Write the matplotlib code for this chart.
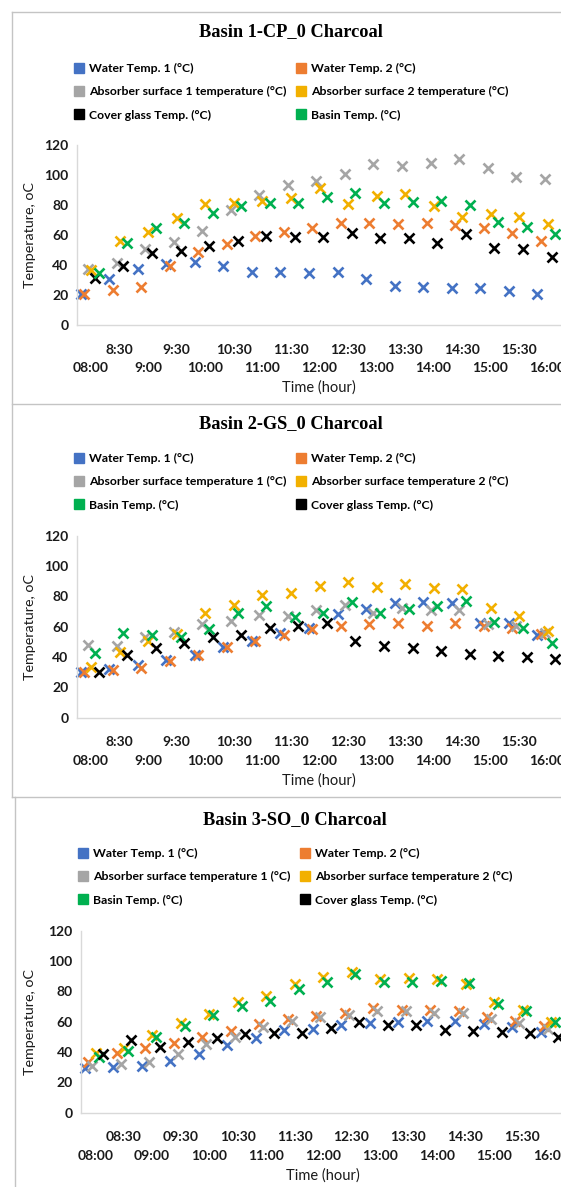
import numpy as np
import matplotlib.pyplot as plt
from matplotlib.lines import Line2D

# reading times (30 min steps)
times_a = ['08:00', '8:30', '9:00', '9:30', '10:00', '10:30', '11:00', '11:30', '12:00',
           '12:30', '13:00', '13:30', '14:00', '14:30', '15:00', '15:30', '16:00']
times_b = ['08:00', '08:30', '09:00', '09:30', '10:00', '10:30', '11:00', '11:30', '12:00',
           '12:30', '13:00', '13:30', '14:00', '14:30', '15:00', '15:30', '16:00']

# Basin 1 - CP
water1_cp = [20.4, 30.7, 37.1, 40.4, 42.2, 39.6, 35.6, 35.6, 34.9, 35.6, 30.7, 26.0, 25.6, 24.9, 24.4, 22.7, 20.9]
water2_cp = [20.4, 23.3, 25.1, 39.6, 48.4, 54.0, 59.6, 61.8, 64.9, 68.2, 67.8, 67.3, 67.8, 66.7, 64.4, 61.1, 56.2]
abs1_cp = [37.3, 41.1, 50.4, 55.6, 62.9, 76.7, 86.7, 93.3, 96.0, 100.7, 107.1, 106.2, 107.8, 110.4, 104.4, 98.9, 97.3]
abs2_cp = [36.7, 56.2, 61.8, 71.1, 80.4, 81.6, 82.7, 84.4, 91.1, 80.7, 86.0, 87.3, 79.3, 72.2, 74.0, 72.2, 67.1]
glass_cp = [31.1, 39.6, 48.2, 49.6, 52.9, 56.0, 59.3, 58.4, 58.9, 61.1, 58.2, 58.2, 54.4, 60.7, 51.1, 50.7, 45.1]
basin_cp = [34.4, 54.9, 64.4, 68.2, 74.4, 79.3, 81.1, 81.6, 85.6, 88.2, 81.6, 82.2, 82.7, 80.0, 68.9, 65.1, 60.7]

# Basin 2 - GS
water1_gs = [30.3, 31.9, 34.7, 38.0, 41.3, 46.8, 50.8, 55.6, 58.9, 68.1, 71.6, 75.8, 76.5, 75.8, 62.2, 62.6, 54.5]
water2_gs = [30.3, 31.4, 33.0, 37.6, 41.3, 46.8, 50.8, 54.5, 58.2, 60.7, 61.8, 62.6, 60.7, 62.6, 60.7, 58.9, 55.2]
abs1_gs = [47.9, 47.3, 53.4, 56.3, 61.8, 63.7, 67.7, 67.3, 71.0, 74.3, 69.2, 72.1, 71.0, 71.0, 61.8, 60.7, 55.6]
abs2_gs = [33.2, 43.5, 50.5, 55.2, 68.8, 74.3, 80.9, 82.4, 86.8, 89.7, 85.9, 88.1, 85.3, 84.8, 72.1, 67.3, 57.4]
basin_gs = [42.4, 56.0, 54.5, 53.0, 58.2, 69.2, 73.8, 66.2, 69.2, 76.0, 69.2, 71.6, 73.8, 77.1, 62.9, 58.9, 49.5]
glass_gs = [29.9, 41.3, 45.7, 49.0, 53.0, 54.5, 58.9, 60.7, 62.2, 50.8, 47.5, 46.2, 44.0, 42.0, 40.9, 39.8, 38.7]

# Basin 3 - SO
water1_so = [29.2, 30.3, 31.0, 34.3, 38.7, 44.6, 49.5, 54.5, 55.2, 57.8, 58.9, 60.0, 60.7, 60.4, 58.5, 56.7, 53.0]
water2_so = [33.6, 39.1, 42.9, 45.7, 50.1, 53.8, 58.2, 61.8, 63.7, 65.5, 68.8, 67.7, 67.7, 67.3, 63.3, 60.4, 57.1]
abs1_so = [31.0, 31.9, 33.6, 38.5, 45.1, 50.1, 56.7, 60.4, 63.3, 64.4, 67.0, 67.3, 65.5, 65.5, 61.5, 58.9, 54.9]
abs2_so = [39.1, 42.9, 51.2, 58.9, 64.8, 73.2, 76.9, 84.6, 89.7, 93.0, 88.1, 89.0, 87.9, 84.6, 73.2, 67.7, 60.0]
basin_so = [36.9, 40.9, 50.1, 57.1, 64.4, 70.3, 73.6, 81.3, 85.9, 91.2, 85.9, 86.4, 87.0, 85.3, 71.6, 67.0, 60.0]
glass_so = [38.7, 47.9, 43.1, 46.8, 49.0, 51.6, 52.3, 52.7, 55.6, 59.6, 57.8, 57.8, 54.5, 53.8, 53.0, 52.3, 50.1]

C_BLUE, C_ORANGE, C_GRAY, C_YELLOW, C_BLACK, C_GREEN = '#4472C4', '#ED7D31', '#A5A5A5', '#F2B000', '#000000', '#00B050'

plt.rcParams['font.family'] = ['Lato', 'DejaVu Sans']
plt.rcParams['font.weight'] = 'bold'

W, H = 561, 1187
fig = plt.figure(figsize=(W / 100, H / 100), dpi=100)


def fx(x):
    return x / W


def fy(y):
    return 1 - y / H


def box(l, t, r, b):
    return [l / W, 1 - b / H, (r - l) / W, (b - t) / H]


panels = [
    dict(title='Basin 1-CP_0 Charcoal', times=times_a,
         series=[('Water Temp. 1 (°C)', water1_cp, C_BLUE),
                 ('Water Temp. 2 (°C)', water2_cp, C_ORANGE),
                 ('Absorber surface 1 temperature (°C)', abs1_cp, C_GRAY),
                 ('Absorber surface 2 temperature (°C)', abs2_cp, C_YELLOW),
                 ('Cover glass Temp. (°C)', glass_cp, C_BLACK),
                 ('Basin Temp. (°C)', basin_cp, C_GREEN)],
         ax=(76.7, 145, 561.8, 325), title_xy=(291, 32), leg_xy=(74, 63)),
    dict(title='Basin 2-GS_0 Charcoal', times=times_a,
         series=[('Water Temp. 1 (°C)', water1_gs, C_BLUE),
                 ('Water Temp. 2 (°C)', water2_gs, C_ORANGE),
                 ('Absorber surface temperature 1 (°C)', abs1_gs, C_GRAY),
                 ('Absorber surface temperature 2 (°C)', abs2_gs, C_YELLOW),
                 ('Basin Temp. (°C)', basin_gs, C_GREEN),
                 ('Cover glass Temp. (°C)', glass_gs, C_BLACK)],
         ax=(76.7, 535.7, 561.8, 717.7), title_xy=(291, 424), leg_xy=(74, 453)),
    dict(title='Basin 3-SO_0 Charcoal', times=times_b,
         series=[('Water Temp. 1 (°C)', water1_so, C_BLUE),
                 ('Water Temp. 2 (°C)', water2_so, C_ORANGE),
                 ('Absorber surface temperature 1 (°C)', abs1_so, C_GRAY),
                 ('Absorber surface temperature 2 (°C)', abs2_so, C_YELLOW),
                 ('Basin Temp. (°C)', basin_so, C_GREEN),
                 ('Cover glass Temp. (°C)', glass_so, C_BLACK)],
         ax=(81, 930.7, 565, 1112.7), title_xy=(295, 820), leg_xy=(78, 848)),
]

# each series sits a little off the category centre
offsets = [-0.36, -0.24, -0.10, 0.01, 0.14, 0.27]
txt = '#1a1a1a'

for p in panels:
    l, t, r, b = p['ax']
    ax = fig.add_axes(box(l, t, r, b))
    n = len(p['times'])
    x = np.arange(n)
    handles = []
    for k, (name, vals, col) in enumerate(p['series']):
        ax.plot(x + offsets[k], vals, ls='none', marker='x', ms=7.2, mew=1.9, color=col, clip_on=False)
        handles.append(Line2D([], [], ls='none', marker='s', ms=6.5, color=col, label=name))

    ax.set_xlim(-0.5, n - 0.5)
    ax.set_ylim(0, 120)
    ax.set_yticks(np.arange(0, 121, 20))
    ax.set_xticks(x[0::2], p['times'][0::2])
    ax.set_xticks(x[1::2], p['times'][1::2], minor=True)
    ax.tick_params(axis='x', which='major', length=0, pad=26.5, labelsize=10, labelcolor=txt)
    ax.tick_params(axis='x', which='minor', length=0, pad=13.5, labelsize=10, labelcolor=txt)
    ax.tick_params(axis='y', length=0, pad=6, labelsize=10, labelcolor=txt)
    for s in ['top', 'right']:
        ax.spines[s].set_visible(False)
    for s in ['left', 'bottom']:
        ax.spines[s].set_color('#d9d9d9')
        ax.spines[s].set_linewidth(1)

    hpx = b - t
    wpx = r - l
    ax.set_xlabel('Time (hour)', fontsize=10.5, color=txt)
    ax.xaxis.set_label_coords((319 - l) / wpx if p is not panels[2] else 0.5, -63 / hpx)
    ax.xaxis.label.set_va('center')
    ax.set_ylabel('Temperature, oC', fontsize=10.3, color=txt)
    ax.yaxis.set_label_coords(-(l - 36) / wpx, 0.5)

    fig.text(fx(p['title_xy'][0]), fy(p['title_xy'][1]), p['title'], ha='center', va='center',
             family='Liberation Serif', fontsize=13.2, weight='bold')

    order = [0, 2, 4, 1, 3, 5]
    fig.legend([handles[i] for i in order], [handles[i].get_label() for i in order],
               loc='upper left', bbox_to_anchor=(fx(p['leg_xy'][0]), fy(p['leg_xy'][1])),
               ncol=2, frameon=False, borderpad=0, borderaxespad=0,
               handlelength=0.75, handletextpad=0.5, columnspacing=0.75, labelspacing=1.0,
               prop=dict(family='Lato', weight='bold', size=8.8))

# chart borders
border = dict(color='#c4c4c4', lw=1)
fig.add_artist(Line2D([fx(12), fx(12)], [fy(12), fy(797)], **border))
fig.add_artist(Line2D([fx(12), fx(561)], [fy(12), fy(12)], **border))
fig.add_artist(Line2D([fx(12), fx(561)], [fy(404), fy(404)], **border))
fig.add_artist(Line2D([fx(12), fx(561)], [fy(797), fy(797)], **border))
fig.add_artist(Line2D([fx(15), fx(15)], [fy(797), fy(1187)], **border))

fig.savefig('out.png', dpi=100)
